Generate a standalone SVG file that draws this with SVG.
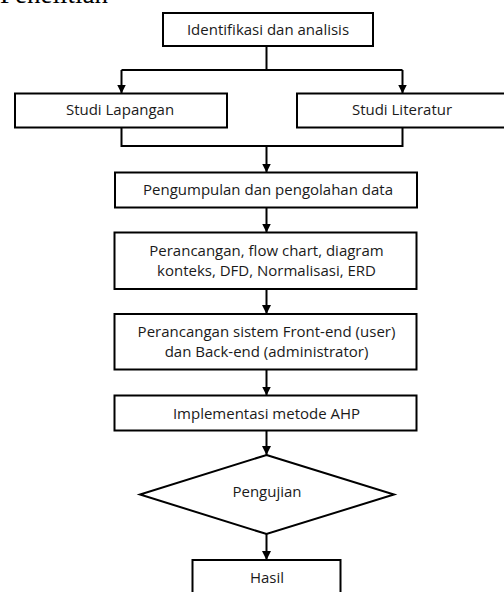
<svg xmlns="http://www.w3.org/2000/svg" width="504" height="592" viewBox="0 0 504 592">
<defs>
<style>
.box{fill:#fff;stroke:#000;stroke-width:2}
.lbl{font-family:"Open Sans","DejaVu Sans",sans-serif;font-size:15px;fill:#1a1a1a;text-anchor:middle}
.con{fill:none;stroke:#000;stroke-width:2}
.arr{marker-end:url(#ah)}
</style>
<marker id="ah" markerUnits="userSpaceOnUse" markerWidth="9" markerHeight="9" refX="9" refY="4.5" orient="auto">
<path d="M0,0 L9,4.5 L0,9 z" fill="#000"/>
</marker>
</defs>
<rect width="504" height="592" fill="#fff"/>
<text x="0" y="3" font-family="'Liberation Serif',serif" font-size="27" fill="#000">Penelitian</text>
<g id="connectors">
<path class="con" d="M266.5,46 V70"/>
<path class="con" d="M121.5,70 H402.5"/>
<path class="con arr" d="M121.5,70 V93.5"/>
<path class="con arr" d="M402.5,70 V93.5"/>
<path class="con" d="M121.5,127.5 V146 H402.5 V127.5"/>
<path class="con arr" d="M266.5,146 V172.5"/>
<path class="con arr" d="M266.5,207.5 V232.5"/>
<path class="con arr" d="M266.5,289 V314"/>
<path class="con arr" d="M266.5,369.5 V395.5"/>
<path class="con arr" d="M266.5,430.5 V455"/>
<path class="con arr" d="M266.5,534 V560"/>
</g>
<g id="n1"><rect class="box" x="163" y="13" width="210" height="33"/><text class="lbl" x="268" y="34.5">Identifikasi dan analisis</text></g>
<g id="n2"><rect class="box" x="15" y="93.5" width="212" height="34"/><text class="lbl" x="120" y="115">Studi Lapangan</text></g>
<g id="n3"><rect class="box" x="297" y="93.5" width="212" height="34"/><text class="lbl" x="402" y="115">Studi Literatur</text></g>
<g id="n4"><rect class="box" x="115" y="172.5" width="302" height="35"/><text class="lbl" x="268" y="195">Pengumpulan dan pengolahan data</text></g>
<g id="n5"><rect class="box" x="114.5" y="232.5" width="302" height="56.5"/><text class="lbl" x="266.5" y="255.7">Perancangan, flow chart, diagram</text><text class="lbl" x="266.5" y="275.7">konteks, DFD, Normalisasi, ERD</text></g>
<g id="n6"><rect class="box" x="114.5" y="314" width="302" height="55.5"/><text class="lbl" x="266.5" y="337.3">Perancangan sistem Front-end (user)</text><text class="lbl" x="266.5" y="356.7">dan Back-end (administrator)</text></g>
<g id="n7"><rect class="box" x="114.5" y="395.5" width="302" height="35"/><text class="lbl" x="266.5" y="419.3">Implementasi metode AHP</text></g>
<g id="n8"><polygon class="box" points="266.5,455 394,494.5 266.5,534 140,494.5"/><text class="lbl" x="267" y="497.3">Pengujian</text></g>
<g id="n9"><rect class="box" x="192.5" y="560" width="148" height="40"/><text class="lbl" x="267" y="582.7">Hasil</text></g>
</svg>
